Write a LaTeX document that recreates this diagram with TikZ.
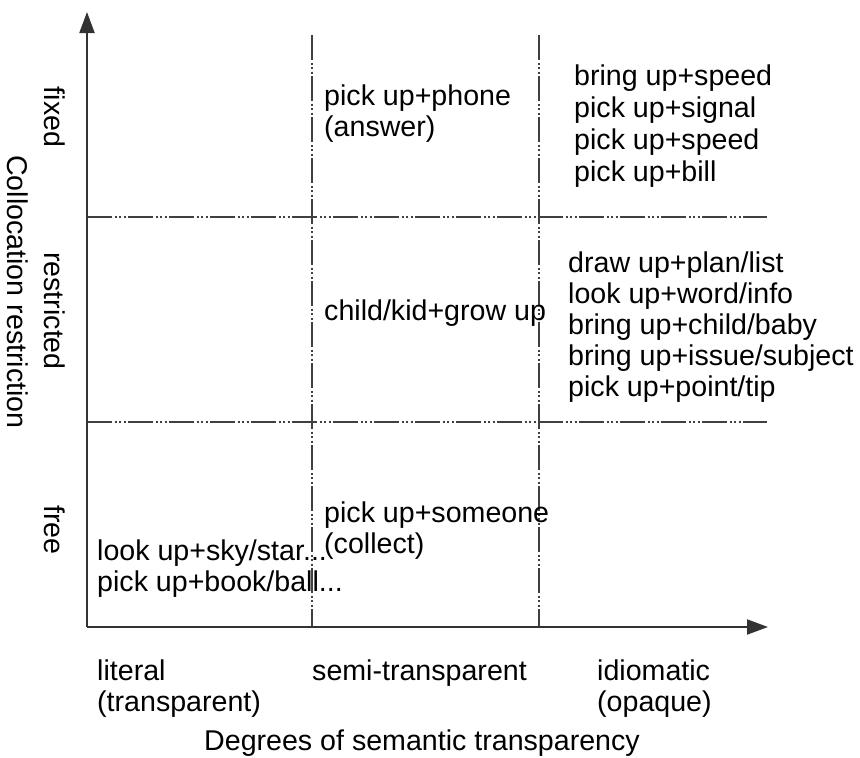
\documentclass[tikz,border=0pt]{standalone}
\usepackage{fontspec}
\setmainfont{Liberation Sans}
\usetikzlibrary{arrows.meta}
\begin{document}
\begin{tikzpicture}[x=1pt,y=-1pt,
  lbl/.style={anchor=base west,inner sep=0pt,font=\fontsize{28.6}{31}\selectfont},
  rlbl/.style={inner sep=0pt,rotate=-90,font=\fontsize{28.6}{31}\selectfont},
  axis/.style={draw=black!80,line width=2pt,-{Triangle[length=21pt,width=15pt]}},
  gridline/.style={draw=black!75,line width=1.5pt,
    dash pattern=on 25pt off 2.5pt on 2pt off 2.5pt on 2pt off 2.5pt on 2pt off 2.5pt}]
\useasboundingbox (0,0) rectangle (860,758);

% axes
\coordinate (origin) at (87,627);
\coordinate (ytop) at (87,12);
\coordinate (xend) at (768,627);
% grid line ends
\coordinate (v1t) at (312,35);  \coordinate (v1b) at (312,627);
\coordinate (v2t) at (539,35);  \coordinate (v2b) at (539,627);
\coordinate (h1l) at (87,217);  \coordinate (h1r) at (767,217);
\coordinate (h2l) at (87,422);  \coordinate (h2r) at (767,422);

\draw[gridline] (v1t) -- (v1b);
\draw[gridline] (v2t) -- (v2b);
\draw[gridline] (h1l) -- (h1r);
\draw[gridline] (h2l) -- (h2r);

\draw[axis] (origin) -- (ytop);
\draw[axis] (origin) -- (xend);

% fixed row
\node[lbl] (fa) at (324,105) {pick up+phone};
\node[lbl] (fb) at (324,136) {(answer)};
\node[lbl] (fc) at (574,85) {bring up+speed};
\node[lbl] (fd) at (574,117) {pick up+signal};
\node[lbl] (fe) at (574,149) {pick up+speed};
\node[lbl] (ff) at (574,181) {pick up+bill};

% restricted row
\node[lbl] (ra) at (324,320) {child/kid+grow up};
\node[lbl] (rb) at (568,272) {draw up+plan/list};
\node[lbl] (rc) at (568,303) {look up+word/info};
\node[lbl] (rd) at (568,334) {bring up+child/baby};
\node[lbl] (re) at (568,365) {bring up+issue/subject};
\node[lbl] (rf) at (568,396) {pick up+point/tip};

% free row
\node[lbl] (la) at (97,560) {look up+sky/star...};
\node[lbl] (lb) at (97,591) {pick up+book/ball...};
\node[lbl] (sa) at (324,522) {pick up+someone};
\node[lbl] (sb) at (324,553) {(collect)};

% x-axis labels
\node[lbl] (xa) at (97,680) {literal};
\node[lbl] (xb) at (97,711) {(transparent)};
\node[lbl] (xc) at (312,680) {semi-transparent};
\node[lbl] (xd) at (597,680) {idiomatic};
\node[lbl] (xe) at (597,711) {(opaque)};
\node[lbl,anchor=base] (xt) at (422,750) {Degrees of semantic transparency};

% y-axis labels
\node[rlbl] (ya) at (55,117) {fixed};
\node[rlbl] (yb) at (55,311) {restricted};
\node[rlbl] (yc) at (55,530) {free};
\node[rlbl] (yt) at (18,292) {Collocation restriction};
\end{tikzpicture}
\end{document}
